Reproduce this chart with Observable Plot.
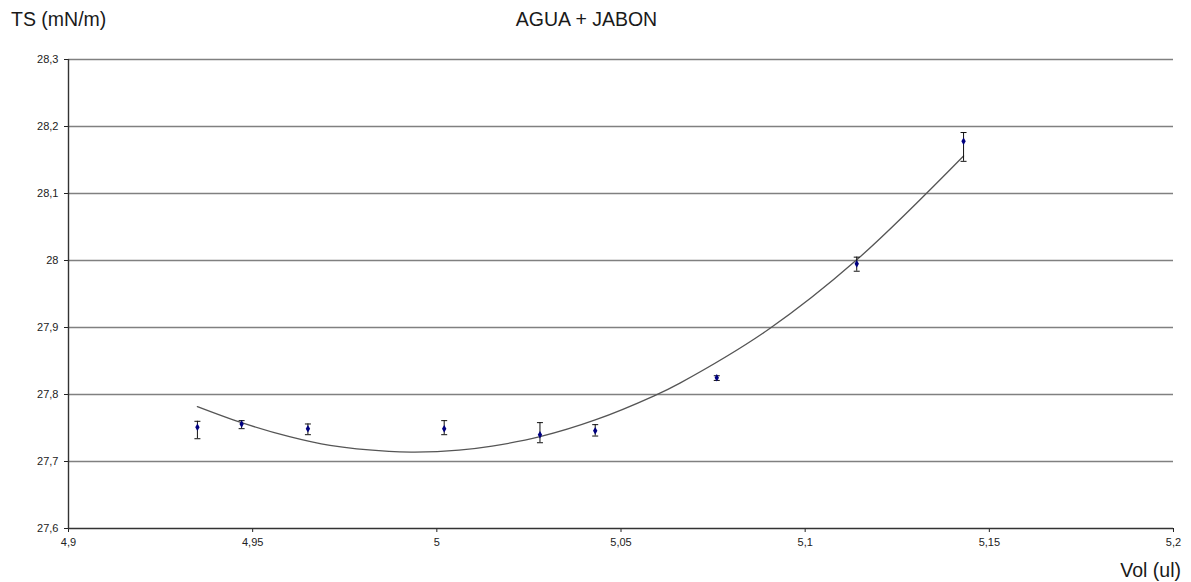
<!DOCTYPE html>
<html>
<head>
<meta charset="utf-8">
<script src="https://cdn.jsdelivr.net/npm/d3@7"></script>
<script src="https://cdn.jsdelivr.net/npm/@observablehq/plot@0.6"></script>
<style>
  html, body { margin: 0; padding: 0; background: #fff; }
  #wrap { position: relative; width: 1191px; height: 582px; font-family: "Liberation Sans", Arial, sans-serif; }
  .lbl { position: absolute; font-size: 19.5px; color: #1a1a1a; white-space: nowrap; line-height: 1; }
</style>
</head>
<body>
<div id="wrap">
  <div class="lbl" id="ylab" style="left:11px; top:10px;">TS (mN/m)</div>
  <div class="lbl" id="title" style="left:0; width:1173px; text-align:center; top:10px;">AGUA + JABON</div>
  <div class="lbl" id="xlab" style="right:10px; top:561px;">Vol (ul)</div>
</div>
<script>
// Measured points
const vol   = [4.935, 4.947, 4.965, 5.002, 5.028, 5.043, 5.076, 5.114, 5.143];
const ts    = [27.751, 27.756, 27.749, 27.749, 27.740, 27.746, 27.825, 27.995, 28.178];
const errHi = [27.760, 27.761, 27.756, 27.761, 27.758, 27.755, 27.828, 28.005, 28.191];
const errLo = [27.734, 27.749, 27.740, 27.740, 27.728, 27.738, 27.821, 27.984, 28.148];

// Trend line
const trendVol = [4.935, 4.947, 4.960, 4.971, 4.987, 4.994, 5.006, 5.015, 5.028, 5.043, 5.059, 5.066, 5.090, 5.114, 5.143];
const trendTs  = [27.782, 27.758, 27.737, 27.724, 27.715, 27.714, 27.717, 27.723, 27.737, 27.762, 27.798, 27.817, 27.897, 28.001, 28.156];

// Axis ticks
const xTicks = [4.9, 4.95, 5, 5.05, 5.1, 5.15, 5.2];
const yTicks = [27.6, 27.7, 27.8, 27.9, 28, 28.1, 28.2, 28.3];

const points = vol.map((v, i) => ({vol: v, ts: ts[i], hi: errHi[i], lo: errLo[i]}));
const trend = trendVol.map((v, i) => ({vol: v, ts: trendTs[i]}));
const fmt = d => String(+d.toFixed(2)).replace(".", ",");

const capSymbol = {
  draw(context, size) {
    const r = Math.sqrt(size / Math.PI);
    context.moveTo(-r, 0);
    context.lineTo(r, 0);
  }
};

const chart = Plot.plot({
  width: 1191,
  height: 582,
  marginLeft: 68,
  marginRight: 18,
  marginTop: 59,
  marginBottom: 54,
  style: {fontFamily: "'Liberation Sans', Arial, sans-serif", fontSize: "11px", color: "#222", background: "transparent"},
  x: {domain: [4.9, 5.2], ticks: xTicks, tickFormat: fmt, tickSize: 4, tickPadding: 6, label: null},
  y: {domain: [27.6, 28.3], ticks: yTicks, tickFormat: fmt, tickSize: 4, tickPadding: 6, label: null},
  marks: [
    Plot.ruleY(yTicks.slice(1), {stroke: "#808080", strokeWidth: 1.6}),
    Plot.ruleY([27.6], {stroke: "#333", strokeWidth: 1.4}),
    Plot.ruleX([4.9], {stroke: "#333", strokeWidth: 1.4}),
    Plot.line(trend, {x: "vol", y: "ts", curve: "catmull-rom", stroke: "#555", strokeWidth: 1.3}),
    Plot.ruleX(points, {x: "vol", y1: "lo", y2: "hi", stroke: "#111", strokeWidth: 1}),
    Plot.dot(points, {x: "vol", y: "hi", symbol: capSymbol, r: 3, stroke: "#111", strokeWidth: 1}),
    Plot.dot(points, {x: "vol", y: "lo", symbol: capSymbol, r: 3, stroke: "#111", strokeWidth: 1}),
    Plot.dot(points, {x: "vol", y: "ts", symbol: "diamond", r: 2.3, fill: "#000080", stroke: "none"})
  ]
});
document.getElementById("wrap").prepend(chart);
chart.style.position = "absolute";
chart.style.left = "0";
chart.style.top = "0";
</script>
</body>
</html>
